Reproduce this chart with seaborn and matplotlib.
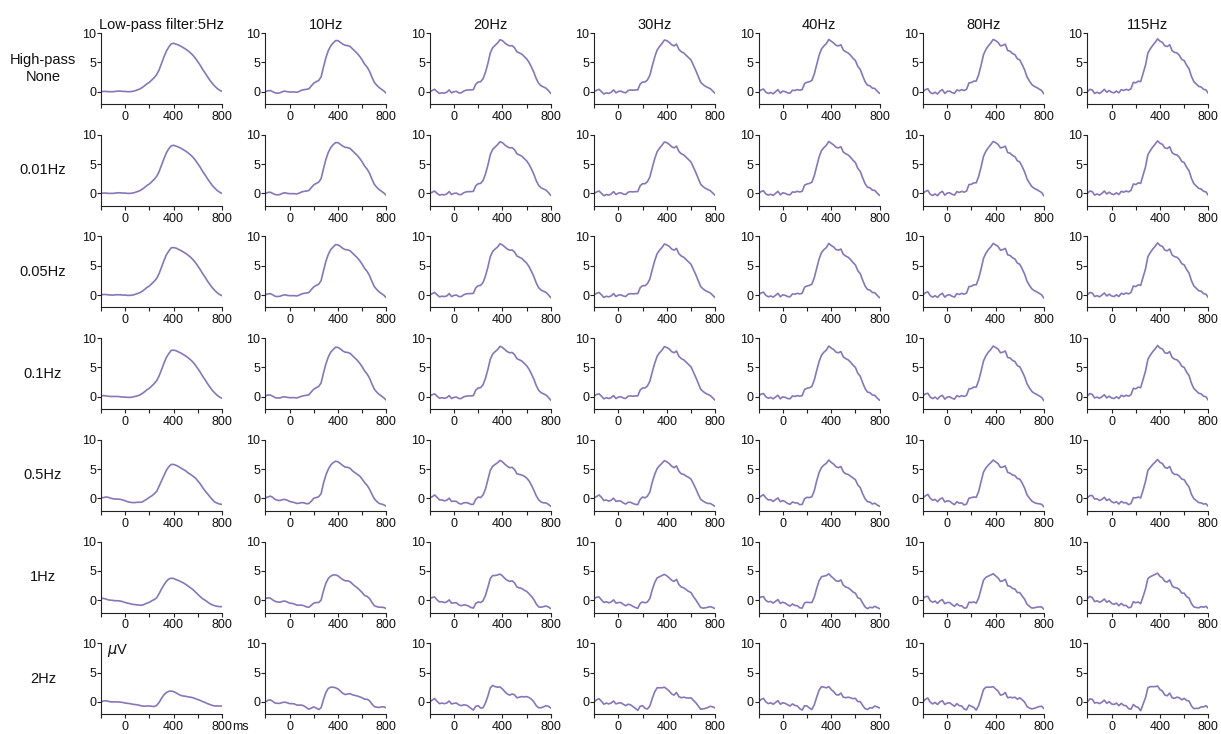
import numpy as np
import matplotlib
matplotlib.use("Agg")
import matplotlib.pyplot as plt
import seaborn as sns

# time axis in ms, one sample every 20 ms
times = np.arange(-200, 801, 20)

lowpass_labels = ["Low-pass filter:5Hz", "10Hz", "20Hz", "30Hz", "40Hz", "80Hz", "115Hz"]
highpass_labels = ["High-pass\nNone", "0.01Hz", "0.05Hz", "0.1Hz", "0.5Hz", "1Hz", "2Hz"]

# first column (low-pass 5Hz), one curve per high-pass setting
hp_none = [0.0, 0.05, 0.05, 0.0, 0.0, 0.0, 0.05, 0.1, 0.1, 0.05,
           0.05, 0.0, 0.0, 0.05, 0.15, 0.3, 0.45, 0.7, 1.0, 1.35,
           1.6, 2.0, 2.4, 2.9, 3.7, 4.8, 5.9, 6.9, 7.6, 8.15,
           8.25, 8.1, 7.95, 7.75, 7.5, 7.25, 6.95, 6.6, 6.2, 5.7,
           5.1, 4.5, 3.8, 3.2, 2.55, 1.95, 1.4, 0.95, 0.55, 0.25,
           0.05]
hp_001 = [0.0, 0.05, 0.05, 0.0, 0.0, 0.0, 0.05, 0.1, 0.1, 0.05,
          0.05, 0.0, 0.0, 0.05, 0.15, 0.3, 0.45, 0.7, 1.0, 1.35,
          1.6, 2.0, 2.4, 2.9, 3.7, 4.8, 5.9, 6.9, 7.6, 8.1,
          8.2, 8.05, 7.9, 7.7, 7.45, 7.2, 6.9, 6.55, 6.15, 5.65,
          5.05, 4.45, 3.75, 3.15, 2.5, 1.9, 1.35, 0.9, 0.5, 0.2,
          0.0]
hp_005 = [0.05, 0.1, 0.1, 0.05, 0.0, 0.0, 0.05, 0.05, 0.05, 0.0,
          0.0, -0.05, -0.05, 0.0, 0.1, 0.25, 0.4, 0.65, 0.95, 1.3,
          1.55, 1.95, 2.35, 2.85, 3.65, 4.75, 5.85, 6.85, 7.5, 8.05,
          8.1, 8.0, 7.8, 7.6, 7.35, 7.1, 6.8, 6.45, 6.05, 5.55,
          4.95, 4.35, 3.65, 3.05, 2.4, 1.8, 1.25, 0.8, 0.4, 0.1,
          -0.1]
hp_01 = [0.15, 0.2, 0.15, 0.1, 0.05, 0.05, 0.05, 0.05, 0.0, -0.05,
         -0.05, -0.1, -0.1, -0.05, 0.05, 0.15, 0.3, 0.55, 0.85, 1.2,
         1.45, 1.85, 2.25, 2.75, 3.55, 4.6, 5.7, 6.7, 7.35, 7.9,
         7.95, 7.85, 7.65, 7.45, 7.2, 6.95, 6.65, 6.3, 5.9, 5.4,
         4.8, 4.2, 3.5, 2.9, 2.25, 1.65, 1.1, 0.65, 0.25, -0.05,
         -0.25]
hp_05 = [0.1, 0.15, 0.25, 0.2, 0.05, -0.05, -0.1, -0.1, -0.15, -0.25,
         -0.4, -0.55, -0.65, -0.7, -0.7, -0.65, -0.65, -0.6, -0.35, -0.1,
         0.2, 0.45, 0.8, 1.2, 2.1, 3.0, 3.9, 4.8, 5.4, 5.8,
         5.8, 5.65, 5.45, 5.2, 4.95, 4.7, 4.35, 4.1, 3.8, 3.5,
         3.0, 2.5, 1.85, 1.3, 0.8, 0.3, -0.2, -0.6, -0.8, -0.95,
         -1.0]
hp_1 = [0.3, 0.3, 0.2, 0.05, 0.0, -0.05, -0.1, -0.1, -0.15, -0.25,
        -0.4, -0.5, -0.6, -0.7, -0.75, -0.8, -0.85, -0.85, -0.7, -0.5,
        -0.35, -0.1, 0.1, 0.4, 1.1, 1.9, 2.6, 3.2, 3.6, 3.75,
        3.7, 3.5, 3.35, 3.15, 2.95, 2.7, 2.4, 2.1, 1.8, 1.4,
        1.0, 0.6, 0.25, 0.0, -0.3, -0.6, -0.8, -0.95, -1.05, -1.1,
        -1.1]
hp_2 = [0.0, 0.15, 0.2, 0.1, 0.0, 0.0, 0.0, 0.0, -0.05, -0.1,
        -0.2, -0.25, -0.3, -0.4, -0.45, -0.5, -0.6, -0.7, -0.75, -0.7,
        -0.7, -0.75, -0.8, -0.6, -0.1, 0.6, 1.2, 1.6, 1.8, 1.85,
        1.75, 1.55, 1.3, 1.1, 1.0, 0.95, 0.85, 0.8, 0.7, 0.55,
        0.4, 0.25, 0.05, -0.1, -0.3, -0.45, -0.6, -0.7, -0.7, -0.7,
        -0.7]

# first row (no high-pass), one curve per low-pass setting above 5Hz
lp_10 = [0.0, 0.15, 0.2, 0.0, -0.2, -0.25, -0.2, 0.0, 0.1, 0.0,
         -0.05, -0.05, -0.05, -0.1, 0.05, 0.25, 0.35, 0.4, 0.5, 1.0,
         1.45, 1.7, 1.9, 2.5, 4.2, 5.8, 7.0, 7.8, 8.3, 8.7,
         8.7, 8.4, 8.1, 7.9, 7.85, 7.7, 7.3, 6.9, 6.5, 6.0,
         5.4, 4.7, 4.2, 3.5, 2.5, 1.6, 1.1, 0.7, 0.4, 0.1,
         -0.3]
lp_20 = [0.0, 0.2, 0.4, 0.0, -0.3, -0.2, -0.25, -0.1, 0.3, -0.2,
         0.0, 0.05, -0.2, -0.2, 0.1, 0.25, 0.3, 0.3, 0.35, 1.3,
         1.65, 1.7, 2.2, 3.3, 4.8, 6.6, 7.5, 7.9, 8.3, 8.85,
         8.7, 8.3, 8.0, 7.8, 7.85, 7.5, 6.8, 6.6, 6.4, 6.0,
         5.6, 5.0, 4.2, 3.3, 2.2, 1.4, 1.0, 0.8, 0.6, 0.2,
         -0.3]
lp_30 = [0.0, 0.25, 0.4, 0.0, -0.4, -0.2, -0.3, -0.1, 0.3, -0.2,
         0.05, 0.1, -0.1, -0.2, 0.2, 0.3, 0.25, 0.3, 0.3, 1.3,
         1.65, 1.65, 2.0, 2.8, 4.4, 5.9, 7.1, 7.7, 8.2, 8.8,
         8.7, 8.4, 8.0, 7.8, 8.1, 7.2, 6.8, 6.6, 6.2, 5.8,
         5.4, 4.5, 3.6, 2.6, 1.6, 1.2, 0.9, 0.7, 0.5, 0.1,
         -0.3]
lp_40 = [0.0, 0.3, 0.45, -0.1, -0.3, -0.15, -0.35, 0.0, 0.35, -0.25,
         0.1, 0.0, -0.2, -0.25, 0.25, 0.2, 0.35, 0.25, 0.35, 1.4,
         1.6, 1.7, 1.9, 3.0, 4.6, 6.2, 7.3, 7.8, 8.2, 8.9,
         8.6, 8.3, 7.9, 7.8, 8.0, 7.1, 6.8, 6.6, 6.2, 5.7,
         5.3, 4.3, 3.8, 2.7, 1.7, 1.1, 1.0, 0.6, 0.55, 0.1,
         -0.3]
lp_80 = [0.0, 0.35, 0.5, -0.15, -0.35, -0.1, -0.4, 0.1, 0.35, -0.3,
         0.05, 0.1, -0.15, -0.3, 0.3, 0.15, 0.35, 0.2, 0.4, 1.5,
         1.55, 1.8, 1.8, 2.9, 4.5, 6.3, 7.2, 7.8, 8.3, 8.9,
         8.7, 8.4, 7.8, 7.9, 8.1, 7.0, 6.9, 6.5, 6.3, 5.6,
         5.4, 4.6, 3.7, 2.5, 1.8, 1.2, 0.9, 0.7, 0.45, 0.2,
         -0.4]
lp_115 = [0.0, 0.4, 0.3, -0.3, -0.1, -0.3, 0.0, 0.4, -0.1, 0.2,
          -0.1, -0.2, 0.1, -0.2, 0.35, 0.2, 0.4, 0.25, 0.5, 1.6,
          1.5, 1.8, 1.7, 3.1, 4.5, 6.6, 7.3, 7.9, 8.4, 9.0,
          8.6, 8.4, 7.8, 7.7, 8.0, 7.0, 6.7, 6.6, 6.2, 5.5,
          5.3, 4.5, 3.9, 2.6, 1.7, 1.3, 0.9, 0.8, 0.4, 0.3,
          -0.3]

row_curves = [hp_none, hp_001, hp_005, hp_01, hp_05, hp_1, hp_2]
col_curves = [hp_none, lp_10, lp_20, lp_30, lp_40, lp_80, lp_115]

line_color = "#8677b8"

sns.set_theme(style="ticks")
plt.rcParams["font.family"] = ["Liberation Sans", "DejaVu Sans"]

fig = plt.figure(figsize=(12.21, 7.34), dpi=100)
W, H = 1221, 734
left0, ax_w, col_step = 101 / W, 121 / W, 164.4 / W
top0, ax_h, row_step = 33 / H, 71 / H, 101.7 / H

for r, row in enumerate(row_curves):
    for c, col in enumerate(col_curves):
        ax = fig.add_axes([left0 + c * col_step, 1 - top0 - r * row_step - ax_h, ax_w, ax_h])
        # the faster filter detail seen in the top row rides on each high-pass baseline
        y = np.array(row) + (np.array(col) - np.array(hp_none))
        sns.lineplot(x=times, y=y, ax=ax, color=line_color, linewidth=1.2)
        ax.set_xlim(-200, 800)
        ax.set_ylim(-2.1, 10)
        ax.set_xticks([-200, 0, 200, 400, 600, 800])
        ax.set_xticklabels(["", "0", "", "400", "", "800"])
        ax.set_yticks([0, 5, 10])
        ax.set_xlabel("")
        ax.set_ylabel("")
        sns.despine(ax=ax)
        for s in ("left", "bottom"):
            ax.spines[s].set_linewidth(0.8)
            ax.spines[s].set_color("#222222")
        ax.tick_params(labelsize=9, length=3, width=0.8, color="#222222", labelcolor="#111111")
        ax.tick_params(axis="x", pad=2)
        ax.tick_params(axis="y", pad=0.5)
        if r == 0:
            ax.set_title(lowpass_labels[c], fontsize=10.5, pad=3, color="#111111")
        if c == 0:
            yc = 1 - top0 - r * row_step - ax_h / 2
            fig.text(43 / W, yc, highpass_labels[r], ha="center", va="center",
                     fontsize=10.5, color="#111111", linespacing=1.25)
        if r == len(row_curves) - 1 and c == 0:
            ax.text(0.05, 1.02, r"$\mu$V", transform=ax.transAxes, ha="left", va="top",
                    fontsize=10.5, color="#111111")
            ax.annotate("ms", xy=(800, -2.1), xycoords="data", xytext=(7.3, -5),
                        textcoords="offset points", ha="left", va="top",
                        fontsize=9, color="#111111", annotation_clip=False)

fig.savefig("out.png", dpi=100)
